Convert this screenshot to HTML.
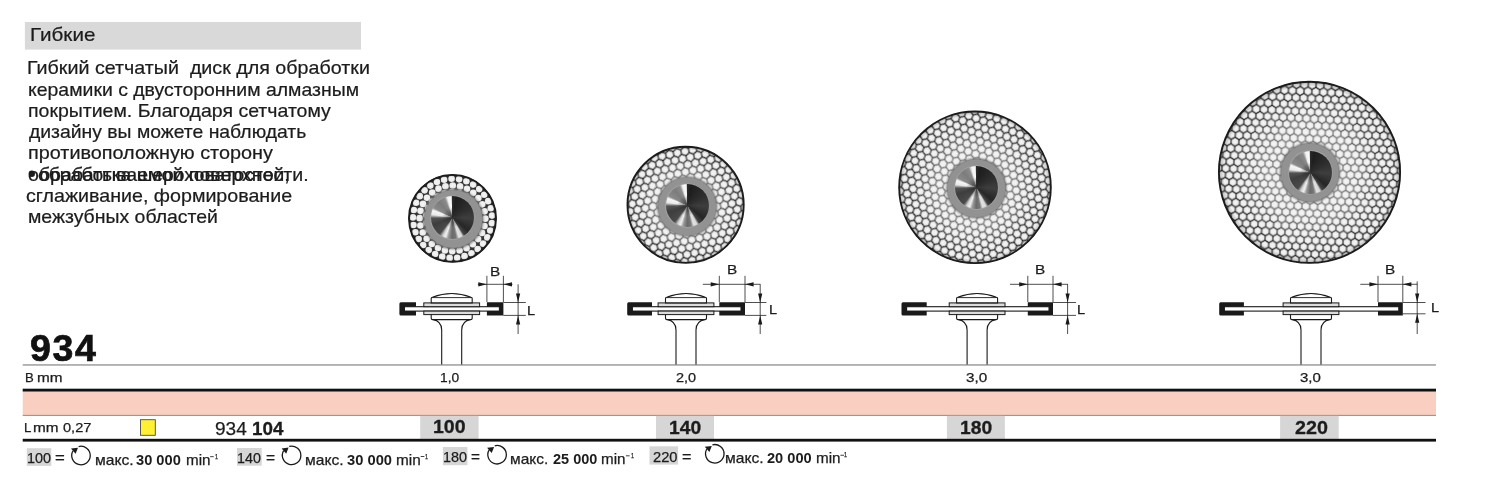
<!DOCTYPE html>
<html lang="ru"><head><meta charset="utf-8"><title>934</title>
<style>
html,body{margin:0;padding:0;background:#fff;}
body{width:1500px;height:500px;position:relative;overflow:hidden;font-family:"Liberation Sans", sans-serif;}
.t{position:absolute;white-space:nowrap;line-height:1;transform-origin:0 0;}
.b{position:absolute;}
.hub{position:absolute;border-radius:50%;width:43px;height:43px;background:radial-gradient(circle at 50% 50%,rgba(45,45,45,.8) 0,rgba(45,45,45,.55) 10%,rgba(45,45,45,0) 34%,rgba(0,0,0,0) 82%,rgba(0,0,0,.5) 100%),conic-gradient(from 0deg,#2a2a2a 0deg,#1e1e1e 10deg,#2e2e2e 60deg,#3e3e3e 92deg,#262626 130deg,#444 146deg,#d8d8d8 153deg,#e2e2e2 162deg,#777 170deg,#6a6a6a 181deg,#999 192deg,#f0f0f0 200deg,#d0d0d0 208deg,#4a4a4a 218deg,#3e3e3e 250deg,#525252 268deg,#e8e8e8 278deg,#f6f6f6 290deg,#8a8a8a 297deg,#7c7c7c 320deg,#8c8c8c 338deg,#f0f0f0 346deg,#fafafa 355deg,#aaa 359deg,#2a2a2a 360deg);filter:blur(.6px);}
svg{position:absolute;left:0;top:0;}
</style></head><body>
<svg width="1500" height="500" viewBox="0 0 1500 500">
<defs><filter id="bl" x="-5%" y="-5%" width="110%" height="110%"><feGaussianBlur stdDeviation="0.5"/></filter><filter id="bl2" x="-5%" y="-5%" width="110%" height="110%"><feGaussianBlur stdDeviation="0.4"/></filter><filter id="bl3" x="-10%" y="-10%" width="120%" height="120%"><feGaussianBlur stdDeviation="0.9"/></filter><radialGradient id="ov"><stop offset="0" stop-color="#f4f4f4" stop-opacity="0.42"/><stop offset="0.5" stop-color="#f4f4f4" stop-opacity="0.38"/><stop offset="0.72" stop-color="#f4f4f4" stop-opacity="0.14"/><stop offset="0.86" stop-color="#f4f4f4" stop-opacity="0"/><stop offset="0.94" stop-color="#000" stop-opacity="0"/><stop offset="1" stop-color="#000" stop-opacity="0.28"/></radialGradient><radialGradient id="hg"><stop offset="0" stop-color="#f4f4f4"/><stop offset="0.7" stop-color="#eeeeee"/><stop offset="1" stop-color="#e4e4e4"/></radialGradient>
</defs>
<rect x="24.9" y="22" width="336.1" height="27.6" fill="#d9d9d9"/>
<rect x="22.7" y="364.3" width="1413.3" height="1.3" fill="#8f8f8f"/>
<rect x="22.7" y="391" width="1413.3" height="24.2" fill="#f8cfc0"/>
<rect x="22.7" y="388.7" width="1413.3" height="2.8" fill="#111"/>
<rect x="22.7" y="414.9" width="1413.3" height="1" fill="#8e8e8e"/>
<rect x="420.2" y="415.9" width="58.4" height="23.1" fill="#d6d6d6"/>
<rect x="656" y="415.9" width="58" height="23.1" fill="#d6d6d6"/>
<rect x="946.9" y="415.9" width="58" height="23.1" fill="#d6d6d6"/>
<rect x="1280.1" y="415.9" width="58.6" height="23.1" fill="#d6d6d6"/>
<rect x="22.7" y="438.8" width="1413.3" height="2.8" fill="#111"/>
<rect x="26.8" y="448.2" width="24.5" height="17.7" fill="#d6d6d6"/>
<rect x="237" y="448" width="24.7" height="17.7" fill="#d6d6d6"/>
<rect x="442.9" y="447" width="24.5" height="18.2" fill="#d6d6d6"/>
<rect x="649.5" y="446.3" width="28.6" height="18.3" fill="#d6d6d6"/>
<rect x="140.5" y="419.7" width="14.8" height="15.6" fill="#fff033" stroke="#4a4a4a" stroke-width="0.9"/>
<clipPath id="c0"><circle cx="452.5" cy="218.4" r="43.9"/></clipPath>
<g clip-path="url(#c0)" filter="url(#bl)"><circle cx="452.5" cy="218.4" r="46.3" fill="#2e2e2e"/><circle cx="491.82" cy="223.14" r="3.3" fill="url(#hg)"/><circle cx="490.21" cy="230.5" r="3.3" fill="url(#hg)"/><circle cx="487.24" cy="237.41" r="3.3" fill="url(#hg)"/><circle cx="483.01" cy="243.64" r="3.3" fill="url(#hg)"/><circle cx="477.68" cy="248.96" r="3.3" fill="url(#hg)"/><circle cx="471.44" cy="253.18" r="3.3" fill="url(#hg)"/><circle cx="464.52" cy="256.13" r="3.3" fill="url(#hg)"/><circle cx="457.16" cy="257.72" r="3.3" fill="url(#hg)"/><circle cx="449.64" cy="257.9" r="3.3" fill="url(#hg)"/><circle cx="442.21" cy="256.64" r="3.3" fill="url(#hg)"/><circle cx="435.16" cy="254" r="3.3" fill="url(#hg)"/><circle cx="428.74" cy="250.08" r="3.3" fill="url(#hg)"/><circle cx="423.17" cy="245.01" r="3.3" fill="url(#hg)"/><circle cx="418.67" cy="238.98" r="3.3" fill="url(#hg)"/><circle cx="415.38" cy="232.2" r="3.3" fill="url(#hg)"/><circle cx="413.44" cy="224.93" r="3.3" fill="url(#hg)"/><circle cx="412.91" cy="217.42" r="3.3" fill="url(#hg)"/><circle cx="413.81" cy="209.94" r="3.3" fill="url(#hg)"/><circle cx="416.11" cy="202.78" r="3.3" fill="url(#hg)"/><circle cx="419.73" cy="196.17" r="3.3" fill="url(#hg)"/><circle cx="424.53" cy="190.37" r="3.3" fill="url(#hg)"/><circle cx="430.34" cy="185.58" r="3.3" fill="url(#hg)"/><circle cx="436.95" cy="181.98" r="3.3" fill="url(#hg)"/><circle cx="444.12" cy="179.7" r="3.3" fill="url(#hg)"/><circle cx="451.6" cy="178.81" r="3.3" fill="url(#hg)"/><circle cx="459.11" cy="179.35" r="3.3" fill="url(#hg)"/><circle cx="466.38" cy="181.31" r="3.3" fill="url(#hg)"/><circle cx="473.14" cy="184.61" r="3.3" fill="url(#hg)"/><circle cx="479.17" cy="189.12" r="3.3" fill="url(#hg)"/><circle cx="484.23" cy="194.7" r="3.3" fill="url(#hg)"/><circle cx="488.14" cy="201.13" r="3.3" fill="url(#hg)"/><circle cx="490.76" cy="208.19" r="3.3" fill="url(#hg)"/><circle cx="492" cy="215.61" r="3.3" fill="url(#hg)"/><circle cx="484.52" cy="225.97" r="3.3" fill="url(#hg)"/><circle cx="482.03" cy="232.91" r="3.3" fill="url(#hg)"/><circle cx="478.06" cy="239.11" r="3.3" fill="url(#hg)"/><circle cx="472.81" cy="244.28" r="3.3" fill="url(#hg)"/><circle cx="466.54" cy="248.15" r="3.3" fill="url(#hg)"/><circle cx="459.57" cy="250.53" r="3.3" fill="url(#hg)"/><circle cx="452.24" cy="251.3" r="3.3" fill="url(#hg)"/><circle cx="444.93" cy="250.42" r="3.3" fill="url(#hg)"/><circle cx="437.99" cy="247.93" r="3.3" fill="url(#hg)"/><circle cx="431.79" cy="243.96" r="3.3" fill="url(#hg)"/><circle cx="426.62" cy="238.71" r="3.3" fill="url(#hg)"/><circle cx="422.75" cy="232.44" r="3.3" fill="url(#hg)"/><circle cx="420.37" cy="225.47" r="3.3" fill="url(#hg)"/><circle cx="419.6" cy="218.14" r="3.3" fill="url(#hg)"/><circle cx="420.48" cy="210.83" r="3.3" fill="url(#hg)"/><circle cx="422.97" cy="203.89" r="3.3" fill="url(#hg)"/><circle cx="426.94" cy="197.69" r="3.3" fill="url(#hg)"/><circle cx="432.19" cy="192.52" r="3.3" fill="url(#hg)"/><circle cx="438.46" cy="188.65" r="3.3" fill="url(#hg)"/><circle cx="445.43" cy="186.27" r="3.3" fill="url(#hg)"/><circle cx="452.76" cy="185.5" r="3.3" fill="url(#hg)"/><circle cx="460.07" cy="186.38" r="3.3" fill="url(#hg)"/><circle cx="467.01" cy="188.87" r="3.3" fill="url(#hg)"/><circle cx="473.21" cy="192.84" r="3.3" fill="url(#hg)"/><circle cx="478.38" cy="198.09" r="3.3" fill="url(#hg)"/><circle cx="482.25" cy="204.36" r="3.3" fill="url(#hg)"/><circle cx="484.63" cy="211.33" r="3.3" fill="url(#hg)"/><circle cx="485.4" cy="218.66" r="3.3" fill="url(#hg)"/><circle cx="478.61" cy="221.55" r="3.3" fill="url(#hg)"/><circle cx="476.67" cy="228.78" r="3.3" fill="url(#hg)"/><circle cx="472.76" cy="235.17" r="3.3" fill="url(#hg)"/><circle cx="467.22" cy="240.2" r="3.3" fill="url(#hg)"/><circle cx="460.48" cy="243.46" r="3.3" fill="url(#hg)"/><circle cx="453.1" cy="244.69" r="3.3" fill="url(#hg)"/><circle cx="445.67" cy="243.8" r="3.3" fill="url(#hg)"/><circle cx="438.79" cy="240.84" r="3.3" fill="url(#hg)"/><circle cx="433.02" cy="236.07" r="3.3" fill="url(#hg)"/><circle cx="428.83" cy="229.87" r="3.3" fill="url(#hg)"/><circle cx="426.56" cy="222.74" r="3.3" fill="url(#hg)"/><circle cx="426.39" cy="215.25" r="3.3" fill="url(#hg)"/><circle cx="428.33" cy="208.02" r="3.3" fill="url(#hg)"/><circle cx="432.24" cy="201.63" r="3.3" fill="url(#hg)"/><circle cx="437.78" cy="196.6" r="3.3" fill="url(#hg)"/><circle cx="444.52" cy="193.34" r="3.3" fill="url(#hg)"/><circle cx="451.9" cy="192.11" r="3.3" fill="url(#hg)"/><circle cx="459.33" cy="193" r="3.3" fill="url(#hg)"/><circle cx="466.21" cy="195.96" r="3.3" fill="url(#hg)"/><circle cx="471.98" cy="200.73" r="3.3" fill="url(#hg)"/><circle cx="476.17" cy="206.93" r="3.3" fill="url(#hg)"/><circle cx="478.44" cy="214.06" r="3.3" fill="url(#hg)"/></g>
<circle cx="452.5" cy="218.4" r="43.9" fill="url(#ov)"/>
<circle cx="452.5" cy="218.4" r="43.5" fill="none" stroke="#1c1c1c" stroke-width="1.9" filter="url(#bl2)"/>
<circle cx="453.4" cy="219" r="30.0" fill="#707070" filter="url(#bl3)"/>
<circle cx="453.4" cy="219" r="28.8" fill="#929292" filter="url(#bl2)"/>
<circle cx="452.3" cy="217.7" r="22.3" fill="#a0a0a0" filter="url(#bl2)"/>
<clipPath id="c1"><circle cx="685.6" cy="204.8" r="58.5"/></clipPath>
<pattern id="p1" width="7.8" height="13.51" patternUnits="userSpaceOnUse" patternTransform="translate(688.6 205.8) rotate(-12)"><rect width="7.8" height="13.51" fill="#2c2c2c"/><path d="M2.96 1.71L0 3.42L-2.96 1.71L-2.96 -1.71L-0 -3.42L2.96 -1.71Z" fill="url(#hg)" stroke="#e4e4e4" stroke-width="0.7" stroke-linejoin="round"/><path d="M10.76 1.71L7.8 3.42L4.84 1.71L4.84 -1.71L7.8 -3.42L10.76 -1.71Z" fill="url(#hg)" stroke="#e4e4e4" stroke-width="0.7" stroke-linejoin="round"/><path d="M2.96 15.22L0 16.93L-2.96 15.22L-2.96 11.8L-0 10.09L2.96 11.8Z" fill="url(#hg)" stroke="#e4e4e4" stroke-width="0.7" stroke-linejoin="round"/><path d="M10.76 15.22L7.8 16.93L4.84 15.22L4.84 11.8L7.8 10.09L10.76 11.8Z" fill="url(#hg)" stroke="#e4e4e4" stroke-width="0.7" stroke-linejoin="round"/><path d="M6.86 8.46L3.9 10.17L0.94 8.46L0.94 5.04L3.9 3.33L6.86 5.04Z" fill="url(#hg)" stroke="#e4e4e4" stroke-width="0.7" stroke-linejoin="round"/></pattern>
<g clip-path="url(#c1)" filter="url(#bl)"><circle cx="685.6" cy="204.8" r="60.9" fill="url(#p1)"/></g>
<circle cx="685.6" cy="204.8" r="58.5" fill="url(#ov)"/>
<circle cx="685.6" cy="204.8" r="58.1" fill="none" stroke="#1c1c1c" stroke-width="1.9" filter="url(#bl2)"/>
<circle cx="687.2" cy="206.4" r="30.0" fill="#707070" filter="url(#bl3)"/>
<circle cx="687.2" cy="206.4" r="28.8" fill="#929292" filter="url(#bl2)"/>
<circle cx="687.1" cy="205.6" r="22.3" fill="#a0a0a0" filter="url(#bl2)"/>
<clipPath id="c2"><circle cx="975" cy="187.3" r="76.2"/></clipPath>
<pattern id="p2" width="7.8" height="13.51" patternUnits="userSpaceOnUse" patternTransform="translate(975 189.8) rotate(20)"><rect width="7.8" height="13.51" fill="#2c2c2c"/><path d="M2.96 1.71L0 3.42L-2.96 1.71L-2.96 -1.71L-0 -3.42L2.96 -1.71Z" fill="url(#hg)" stroke="#e4e4e4" stroke-width="0.7" stroke-linejoin="round"/><path d="M10.76 1.71L7.8 3.42L4.84 1.71L4.84 -1.71L7.8 -3.42L10.76 -1.71Z" fill="url(#hg)" stroke="#e4e4e4" stroke-width="0.7" stroke-linejoin="round"/><path d="M2.96 15.22L0 16.93L-2.96 15.22L-2.96 11.8L-0 10.09L2.96 11.8Z" fill="url(#hg)" stroke="#e4e4e4" stroke-width="0.7" stroke-linejoin="round"/><path d="M10.76 15.22L7.8 16.93L4.84 15.22L4.84 11.8L7.8 10.09L10.76 11.8Z" fill="url(#hg)" stroke="#e4e4e4" stroke-width="0.7" stroke-linejoin="round"/><path d="M6.86 8.46L3.9 10.17L0.94 8.46L0.94 5.04L3.9 3.33L6.86 5.04Z" fill="url(#hg)" stroke="#e4e4e4" stroke-width="0.7" stroke-linejoin="round"/></pattern>
<g clip-path="url(#c2)" filter="url(#bl)"><circle cx="975" cy="187.3" r="78.6" fill="url(#p2)"/></g>
<circle cx="975" cy="187.3" r="76.2" fill="url(#ov)"/>
<circle cx="975" cy="187.3" r="75.8" fill="none" stroke="#1c1c1c" stroke-width="1.9" filter="url(#bl2)"/>
<circle cx="976.4" cy="188.3" r="30.0" fill="#707070" filter="url(#bl3)"/>
<circle cx="976.4" cy="188.3" r="28.8" fill="#929292" filter="url(#bl2)"/>
<circle cx="976.5" cy="187.6" r="22.3" fill="#a0a0a0" filter="url(#bl2)"/>
<clipPath id="c3"><circle cx="1309.5" cy="172.3" r="91"/></clipPath>
<pattern id="p3" width="7.8" height="13.51" patternUnits="userSpaceOnUse" patternTransform="translate(1311.5 172.8) rotate(3)"><rect width="7.8" height="13.51" fill="#2c2c2c"/><path d="M2.96 1.71L0 3.42L-2.96 1.71L-2.96 -1.71L-0 -3.42L2.96 -1.71Z" fill="url(#hg)" stroke="#e4e4e4" stroke-width="0.7" stroke-linejoin="round"/><path d="M10.76 1.71L7.8 3.42L4.84 1.71L4.84 -1.71L7.8 -3.42L10.76 -1.71Z" fill="url(#hg)" stroke="#e4e4e4" stroke-width="0.7" stroke-linejoin="round"/><path d="M2.96 15.22L0 16.93L-2.96 15.22L-2.96 11.8L-0 10.09L2.96 11.8Z" fill="url(#hg)" stroke="#e4e4e4" stroke-width="0.7" stroke-linejoin="round"/><path d="M10.76 15.22L7.8 16.93L4.84 15.22L4.84 11.8L7.8 10.09L10.76 11.8Z" fill="url(#hg)" stroke="#e4e4e4" stroke-width="0.7" stroke-linejoin="round"/><path d="M6.86 8.46L3.9 10.17L0.94 8.46L0.94 5.04L3.9 3.33L6.86 5.04Z" fill="url(#hg)" stroke="#e4e4e4" stroke-width="0.7" stroke-linejoin="round"/></pattern>
<g clip-path="url(#c3)" filter="url(#bl)"><circle cx="1309.5" cy="172.3" r="93.4" fill="url(#p3)"/></g>
<circle cx="1309.5" cy="172.3" r="91" fill="url(#ov)"/>
<circle cx="1309.5" cy="172.3" r="90.6" fill="none" stroke="#1c1c1c" stroke-width="1.9" filter="url(#bl2)"/>
<circle cx="1310" cy="172.5" r="30.0" fill="#707070" filter="url(#bl3)"/>
<circle cx="1310" cy="172.5" r="28.8" fill="#929292" filter="url(#bl2)"/>
<circle cx="1310.4" cy="172.2" r="22.3" fill="#a0a0a0" filter="url(#bl2)"/>
<rect x="404.4" y="306.7" width="95" height="4.4" fill="#fff" stroke="#1a1a1a" stroke-width="1.1"/>
<path d="M400.9 302.2H416V306.7H405V311.1H416V315.4H400.9Q399.4 315.4 399.4 313.9V303.7Q399.4 302.2 400.9 302.2Z" fill="#1a1a1a"/>
<path d="M486.9 302.2H503.4V315.4H486.9V311.1H499.4V306.7H486.9Z" fill="#1a1a1a"/>
<rect x="423.8" y="302.9" width="55.8" height="3.8" fill="#dcdcdc" stroke="#1a1a1a" stroke-width="1"/>
<rect x="423.8" y="311.1" width="55.8" height="3.5" fill="#dcdcdc" stroke="#1a1a1a" stroke-width="1"/>
<path d="M431.2 302.9V298.6Q431.2 297.4 432.4 297.2Q451.7 289.8 471 297.2Q472.2 297.4 472.2 298.6V302.9Z" fill="#fff" stroke="#1a1a1a" stroke-width="1.1"/>
<path d="M432.2 297.6H471.2" stroke="#1a1a1a" stroke-width="0.9"/>
<path d="M431.2 314.6V318.3Q431.2 319.6 432.7 319.6C438.7 320.5 441.7 324 441.7 330V364.4M472.2 314.6V318.3Q472.2 319.6 470.7 319.6C464.7 320.5 461.7 324 461.7 330V364.4M432.2 319.6H471.2" fill="none" stroke="#1a1a1a" stroke-width="1.1"/>
<path d="M486.9 275.8V302M503.4 275.8V302M477.8 284.3H512.5" stroke="#222" stroke-width="0.8" fill="none"/>
<path d="M486.9 284.3L478.3 282.2V286.4Z M503.4 284.3L512 282.2V286.4Z" fill="#1a1a1a"/>
<path d="M503.4 302.5H525.8M503.4 315.4H525.8M518.1 284.3V334" stroke="#222" stroke-width="0.8" fill="none"/>
<path d="M518.1 302.5L516 293.6H520.2Z M518.1 315.4L516 324.4H520.2Z" fill="#1a1a1a"/>
<rect x="632.2" y="306.7" width="108.8" height="4.4" fill="#fff" stroke="#1a1a1a" stroke-width="1.1"/>
<path d="M628.7 302.2H652V306.7H632.8V311.1H652V315.4H628.7Q627.2 315.4 627.2 313.9V303.7Q627.2 302.2 628.7 302.2Z" fill="#1a1a1a"/>
<path d="M719.3 302.2H745V315.4H719.3V311.1H741V306.7H719.3Z" fill="#1a1a1a"/>
<rect x="658.1" y="302.9" width="55.8" height="3.8" fill="#dcdcdc" stroke="#1a1a1a" stroke-width="1"/>
<rect x="658.1" y="311.1" width="55.8" height="3.5" fill="#dcdcdc" stroke="#1a1a1a" stroke-width="1"/>
<path d="M665.5 302.9V298.6Q665.5 297.4 666.7 297.2Q686 289.8 705.3 297.2Q706.5 297.4 706.5 298.6V302.9Z" fill="#fff" stroke="#1a1a1a" stroke-width="1.1"/>
<path d="M666.5 297.6H705.5" stroke="#1a1a1a" stroke-width="0.9"/>
<path d="M665.5 314.6V318.3Q665.5 319.6 667 319.6C673 320.5 676 324 676 330V364.4M706.5 314.6V318.3Q706.5 319.6 705 319.6C699 320.5 696 324 696 330V364.4M666.5 319.6H705.5" fill="none" stroke="#1a1a1a" stroke-width="1.1"/>
<path d="M719.3 275.8V302M745 275.8V302M702.8 284.3H760.4" stroke="#222" stroke-width="0.8" fill="none"/>
<path d="M719.3 284.3L710.7 282.2V286.4Z M745 284.3L753.6 282.2V286.4Z" fill="#1a1a1a"/>
<path d="M745 302.5H766.4M745 315.4H766.4M760.2 284.3V334" stroke="#222" stroke-width="0.8" fill="none"/>
<path d="M760.2 302.5L758.1 293.6H762.3Z M760.2 315.4L758.1 324.4H762.3Z" fill="#1a1a1a"/>
<rect x="906.5" y="306.7" width="142.5" height="4.4" fill="#fff" stroke="#1a1a1a" stroke-width="1.1"/>
<path d="M903 302.2H926.7V306.7H907.1V311.1H926.7V315.4H903Q901.5 315.4 901.5 313.9V303.7Q901.5 302.2 903 302.2Z" fill="#1a1a1a"/>
<path d="M1027.8 302.2H1053V315.4H1027.8V311.1H1049V306.7H1027.8Z" fill="#1a1a1a"/>
<rect x="949.2" y="302.9" width="55.8" height="3.8" fill="#dcdcdc" stroke="#1a1a1a" stroke-width="1"/>
<rect x="949.2" y="311.1" width="55.8" height="3.5" fill="#dcdcdc" stroke="#1a1a1a" stroke-width="1"/>
<path d="M956.6 302.9V298.6Q956.6 297.4 957.8 297.2Q977.1 289.8 996.4 297.2Q997.6 297.4 997.6 298.6V302.9Z" fill="#fff" stroke="#1a1a1a" stroke-width="1.1"/>
<path d="M957.6 297.6H996.6" stroke="#1a1a1a" stroke-width="0.9"/>
<path d="M956.6 314.6V318.3Q956.6 319.6 958.1 319.6C964.1 320.5 967.1 324 967.1 330V364.4M997.6 314.6V318.3Q997.6 319.6 996.1 319.6C990.1 320.5 987.1 324 987.1 330V364.4M957.6 319.6H996.6" fill="none" stroke="#1a1a1a" stroke-width="1.1"/>
<path d="M1027.8 275.8V302M1053 275.8V302M1010 284.3H1068" stroke="#222" stroke-width="0.8" fill="none"/>
<path d="M1027.8 284.3L1019.2 282.2V286.4Z M1053 284.3L1061.6 282.2V286.4Z" fill="#1a1a1a"/>
<path d="M1053 302.5H1076M1053 315.4H1076M1067.6 284.3V334" stroke="#222" stroke-width="0.8" fill="none"/>
<path d="M1067.6 302.5L1065.5 293.6H1069.7Z M1067.6 315.4L1065.5 324.4H1069.7Z" fill="#1a1a1a"/>
<rect x="1224.2" y="306.7" width="174.6" height="4.4" fill="#fff" stroke="#1a1a1a" stroke-width="1.1"/>
<path d="M1220.7 302.2H1243.9V306.7H1224.8V311.1H1243.9V315.4H1220.7Q1219.2 315.4 1219.2 313.9V303.7Q1219.2 302.2 1220.7 302.2Z" fill="#1a1a1a"/>
<path d="M1378 302.2H1402.8V315.4H1378V311.1H1398.8V306.7H1378Z" fill="#1a1a1a"/>
<rect x="1283.1" y="302.9" width="55.8" height="3.8" fill="#dcdcdc" stroke="#1a1a1a" stroke-width="1"/>
<rect x="1283.1" y="311.1" width="55.8" height="3.5" fill="#dcdcdc" stroke="#1a1a1a" stroke-width="1"/>
<path d="M1290.5 302.9V298.6Q1290.5 297.4 1291.7 297.2Q1311 289.8 1330.3 297.2Q1331.5 297.4 1331.5 298.6V302.9Z" fill="#fff" stroke="#1a1a1a" stroke-width="1.1"/>
<path d="M1291.5 297.6H1330.5" stroke="#1a1a1a" stroke-width="0.9"/>
<path d="M1290.5 314.6V318.3Q1290.5 319.6 1292 319.6C1298 320.5 1301 324 1301 330V364.4M1331.5 314.6V318.3Q1331.5 319.6 1330 319.6C1324 320.5 1321 324 1321 330V364.4M1291.5 319.6H1330.5" fill="none" stroke="#1a1a1a" stroke-width="1.1"/>
<path d="M1378 275.8V302M1402.8 275.8V302M1360.3 284.3H1417.4" stroke="#222" stroke-width="0.8" fill="none"/>
<path d="M1378 284.3L1369.4 282.2V286.4Z M1402.8 284.3L1411.4 282.2V286.4Z" fill="#1a1a1a"/>
<path d="M1402.8 302.5H1425.5M1402.8 313.8H1425.5M1417.2 281.4V334" stroke="#222" stroke-width="0.8" fill="none"/>
<path d="M1417.2 302.5L1415.1 293.6H1419.3Z M1417.2 313.8L1415.1 322.8H1419.3Z" fill="#1a1a1a"/>
<path d="M78.61 446.57A9.25 9.25 0 1 1 73.07 450.74" fill="none" stroke="#1a1a1a" stroke-width="1.3"/><path d="M71 448.5L78 447.7L75.6 453.8Z" fill="#1a1a1a"/>
<path d="M289.21 446.47A9.25 9.25 0 1 1 283.67 450.64" fill="none" stroke="#1a1a1a" stroke-width="1.3"/><path d="M281.6 448.4L288.6 447.6L286.2 453.7Z" fill="#1a1a1a"/>
<path d="M494.71 445.77A9.25 9.25 0 1 1 489.17 449.94" fill="none" stroke="#1a1a1a" stroke-width="1.3"/><path d="M487.1 447.7L494.1 446.9L491.7 453Z" fill="#1a1a1a"/>
<path d="M712.41 444.87A9.25 9.25 0 1 1 706.87 449.04" fill="none" stroke="#1a1a1a" stroke-width="1.3"/><path d="M704.8 446.8L711.8 446L709.4 452.1Z" fill="#1a1a1a"/>
<circle cx="31.8" cy="173.7" r="3.2" fill="#1c1c1c"/>
<rect x="210.1" y="456.3" width="3.7" height="0.85" fill="#222"/>
<rect x="420.7" y="456.1" width="3.7" height="0.85" fill="#222"/>
<rect x="625.9" y="455.4" width="3.7" height="0.85" fill="#222"/>
<rect x="840.4" y="454.8" width="3.7" height="0.85" fill="#222"/>
</svg>
<div class="hub" style="left:430.8px;top:196.2px"></div>
<div class="hub" style="left:665.6px;top:184.1px"></div>
<div class="hub" style="left:955px;top:166.1px"></div>
<div class="hub" style="left:1288.9px;top:150.7px"></div>
<span class="t" id="t0" style="left:29.99px;top:26px;font-size:18.2px;color:#1c1c1c;-webkit-text-stroke:0.22px #1c1c1c;transform:scaleX(1.1348);">Гибкие</span>
<span class="t" id="t1" style="left:27.36px;top:59px;font-size:18.5px;color:#1c1c1c;-webkit-text-stroke:0.22px #1c1c1c;transform:scaleX(1.0638);">Гибкий сетчатый&nbsp; диск для обработки</span>
<span class="t" id="t2" style="left:27.69px;top:81px;font-size:18.5px;color:#1c1c1c;-webkit-text-stroke:0.22px #1c1c1c;transform:scaleX(1.0507);">керамики с двусторонним алмазным</span>
<span class="t" id="t3" style="left:27.68px;top:102px;font-size:18.5px;color:#1c1c1c;-webkit-text-stroke:0.22px #1c1c1c;transform:scaleX(1.0540);">покрытием. Благодаря сетчатому</span>
<span class="t" id="t4" style="left:28.9px;top:123px;font-size:18.5px;color:#1c1c1c;-webkit-text-stroke:0.22px #1c1c1c;transform:scaleX(1.0466);">дизайну вы можете наблюдать</span>
<span class="t" id="t5" style="left:27.66px;top:144px;font-size:18.5px;color:#1c1c1c;-webkit-text-stroke:0.22px #1c1c1c;transform:scaleX(1.0711);">противоположную сторону</span>
<span class="t" id="t6" style="left:28.29px;top:166px;font-size:18.5px;color:#1c1c1c;-webkit-text-stroke:0.22px #1c1c1c;transform:scaleX(1.0583);">обрабатываемой поверхности.</span>
<span class="t" id="t7" style="left:38.1px;top:166px;font-size:18.5px;color:#1c1c1c;-webkit-text-stroke:0.22px #1c1c1c;transform:scaleX(1.0463);">обработка шероховатостей,</span>
<span class="t" id="t8" style="left:25.79px;top:187px;font-size:18.5px;color:#1c1c1c;-webkit-text-stroke:0.22px #1c1c1c;transform:scaleX(1.0619);">сглаживание, формирование</span>
<span class="t" id="t9" style="left:27.68px;top:208px;font-size:18.5px;color:#1c1c1c;-webkit-text-stroke:0.22px #1c1c1c;transform:scaleX(1.0513);">межзубных областей</span>
<span class="t" id="t10" style="left:30.33px;top:331px;font-size:36.2px;font-weight:700;letter-spacing:1.6px;color:#111;-webkit-text-stroke:0.7px #111;transform:scaleX(1.0367);">934</span>
<span class="t" id="t11" style="left:25.47px;top:371px;font-size:13.4px;color:#1c1c1c;-webkit-text-stroke:0.25px #1c1c1c;transform:scaleX(0.9825);">B</span>
<span class="t" id="t12" style="left:36.74px;top:371px;font-size:13.4px;color:#1c1c1c;-webkit-text-stroke:0.25px #1c1c1c;transform:scaleX(1.1446);">mm</span>
<span class="t" id="t13" style="left:23.67px;top:421px;font-size:13.4px;color:#1c1c1c;-webkit-text-stroke:0.25px #1c1c1c;transform:scaleX(0.9882);">L</span>
<span class="t" id="t14" style="left:33.24px;top:421px;font-size:13.4px;color:#1c1c1c;-webkit-text-stroke:0.25px #1c1c1c;transform:scaleX(1.1446);">mm</span>
<span class="t" id="t15" style="left:63.44px;top:421px;font-size:13.4px;color:#1c1c1c;-webkit-text-stroke:0.25px #1c1c1c;transform:scaleX(1.0908);">0,27</span>
<span class="t" id="t16" style="left:214.51px;top:420px;font-size:18.8px;color:#1c1c1c;-webkit-text-stroke:0.25px #1c1c1c;transform:scaleX(1.0127);">934</span>
<span class="t" id="t17" style="left:252.23px;top:420px;font-size:18.8px;font-weight:700;color:#1c1c1c;-webkit-text-stroke:0.3px #1c1c1c;transform:scaleX(0.9996);">104</span>
<span class="t" id="t18" style="left:440.37px;top:372px;font-size:12.7px;color:#1c1c1c;-webkit-text-stroke:0.25px #1c1c1c;transform:scaleX(1.0836);">1,0</span>
<span class="t" id="t19" style="left:675.52px;top:372px;font-size:12.7px;color:#1c1c1c;-webkit-text-stroke:0.25px #1c1c1c;transform:scaleX(1.1391);">2,0</span>
<span class="t" id="t20" style="left:966.26px;top:372px;font-size:12.7px;color:#1c1c1c;-webkit-text-stroke:0.25px #1c1c1c;transform:scaleX(1.2006);">3,0</span>
<span class="t" id="t21" style="left:1300.27px;top:372px;font-size:12.7px;color:#1c1c1c;-webkit-text-stroke:0.25px #1c1c1c;transform:scaleX(1.1827);">3,0</span>
<span class="t" id="t22" style="left:432.78px;top:418px;font-size:18.8px;font-weight:700;color:#1c1c1c;-webkit-text-stroke:0.3px #1c1c1c;transform:scaleX(1.0398);">100</span>
<span class="t" id="t23" style="left:668.59px;top:419px;font-size:18.8px;font-weight:700;color:#1c1c1c;-webkit-text-stroke:0.3px #1c1c1c;transform:scaleX(1.0262);">140</span>
<span class="t" id="t24" style="left:960.39px;top:419px;font-size:18.8px;font-weight:700;color:#1c1c1c;-webkit-text-stroke:0.3px #1c1c1c;transform:scaleX(1.0262);">180</span>
<span class="t" id="t25" style="left:1294.58px;top:419px;font-size:18.8px;font-weight:700;color:#1c1c1c;-webkit-text-stroke:0.3px #1c1c1c;transform:scaleX(1.0494);">220</span>
<span class="t" id="t26" style="left:489.8px;top:265px;font-size:13.2px;color:#1c1c1c;-webkit-text-stroke:0.25px #1c1c1c;transform:scaleX(1.1636);">B</span>
<span class="t" id="t27" style="left:526.76px;top:304px;font-size:13.2px;color:#1c1c1c;-webkit-text-stroke:0.25px #1c1c1c;transform:scaleX(1.1034);">L</span>
<span class="t" id="t28" style="left:726.8px;top:263px;font-size:13.2px;color:#1c1c1c;-webkit-text-stroke:0.25px #1c1c1c;transform:scaleX(1.1636);">B</span>
<span class="t" id="t29" style="left:769.06px;top:303px;font-size:13.2px;color:#1c1c1c;-webkit-text-stroke:0.25px #1c1c1c;transform:scaleX(1.1034);">L</span>
<span class="t" id="t30" style="left:1034.8px;top:263px;font-size:13.2px;color:#1c1c1c;-webkit-text-stroke:0.25px #1c1c1c;transform:scaleX(1.1636);">B</span>
<span class="t" id="t31" style="left:1076.56px;top:303px;font-size:13.2px;color:#1c1c1c;-webkit-text-stroke:0.25px #1c1c1c;transform:scaleX(1.1034);">L</span>
<span class="t" id="t32" style="left:1384.7px;top:263px;font-size:13.2px;color:#1c1c1c;-webkit-text-stroke:0.25px #1c1c1c;transform:scaleX(1.1636);">B</span>
<span class="t" id="t33" style="left:1431.36px;top:301px;font-size:13.2px;color:#1c1c1c;-webkit-text-stroke:0.25px #1c1c1c;transform:scaleX(1.1034);">L</span>
<span class="t" id="t34" style="left:26.9px;top:451px;font-size:14.6px;color:#1c1c1c;-webkit-text-stroke:0.25px #1c1c1c;transform:scaleX(0.9877);">100</span>
<span class="t" id="t35" style="left:54.91px;top:451px;font-size:14.6px;color:#1c1c1c;-webkit-text-stroke:0.25px #1c1c1c;transform:scaleX(1.1507);">=</span>
<span class="t" id="t36" style="left:94.52px;top:453px;font-size:14.6px;color:#1c1c1c;-webkit-text-stroke:0.25px #1c1c1c;transform:scaleX(1.0729);">макс.</span>
<span class="t" id="t37" style="left:136.37px;top:453px;font-size:14.6px;font-weight:700;color:#1c1c1c;transform:scaleX(1.0037);">30 000</span>
<span class="t" id="t38" style="left:185.55px;top:453px;font-size:14.6px;color:#1c1c1c;-webkit-text-stroke:0.25px #1c1c1c;transform:scaleX(1.0416);">min</span>
<span class="t" id="t39" style="left:214.89px;top:453px;font-size:8px;color:#1c1c1c;-webkit-text-stroke:0.25px #1c1c1c;transform:scaleX(0.6857);">1</span>
<span class="t" id="t40" style="left:237.31px;top:451px;font-size:14.6px;color:#1c1c1c;-webkit-text-stroke:0.25px #1c1c1c;transform:scaleX(0.9791);">140</span>
<span class="t" id="t41" style="left:266.07px;top:451px;font-size:14.6px;color:#1c1c1c;-webkit-text-stroke:0.25px #1c1c1c;transform:scaleX(1.0685);">=</span>
<span class="t" id="t42" style="left:304.72px;top:453px;font-size:14.6px;color:#1c1c1c;-webkit-text-stroke:0.25px #1c1c1c;transform:scaleX(1.0699);">макс.</span>
<span class="t" id="t43" style="left:346.77px;top:453px;font-size:14.6px;font-weight:700;color:#1c1c1c;transform:scaleX(1.0083);">30 000</span>
<span class="t" id="t44" style="left:395.94px;top:453px;font-size:14.6px;color:#1c1c1c;-webkit-text-stroke:0.25px #1c1c1c;transform:scaleX(1.0508);">min</span>
<span class="t" id="t45" style="left:425.49px;top:453px;font-size:8px;color:#1c1c1c;-webkit-text-stroke:0.25px #1c1c1c;transform:scaleX(0.6857);">1</span>
<span class="t" id="t46" style="left:442.9px;top:450px;font-size:14.6px;color:#1c1c1c;-webkit-text-stroke:0.25px #1c1c1c;transform:scaleX(0.9877);">180</span>
<span class="t" id="t47" style="left:471.48px;top:450px;font-size:14.6px;color:#1c1c1c;-webkit-text-stroke:0.25px #1c1c1c;transform:scaleX(1.0548);">=</span>
<span class="t" id="t48" style="left:510.43px;top:452px;font-size:14.6px;color:#1c1c1c;-webkit-text-stroke:0.25px #1c1c1c;transform:scaleX(1.0611);">макс.</span>
<span class="t" id="t49" style="left:552.75px;top:452px;font-size:14.6px;font-weight:700;color:#1c1c1c;transform:scaleX(0.9929);">25 000</span>
<span class="t" id="t50" style="left:601.35px;top:452px;font-size:14.6px;color:#1c1c1c;-webkit-text-stroke:0.25px #1c1c1c;transform:scaleX(1.0416);">min</span>
<span class="t" id="t51" style="left:630.79px;top:452px;font-size:8px;color:#1c1c1c;-webkit-text-stroke:0.25px #1c1c1c;transform:scaleX(0.6857);">1</span>
<span class="t" id="t52" style="left:652.81px;top:450px;font-size:14.6px;color:#1c1c1c;-webkit-text-stroke:0.25px #1c1c1c;transform:scaleX(1.0081);">220</span>
<span class="t" id="t53" style="left:681.74px;top:450px;font-size:14.6px;color:#1c1c1c;-webkit-text-stroke:0.25px #1c1c1c;transform:scaleX(1.1096);">=</span>
<span class="t" id="t54" style="left:724.82px;top:451px;font-size:14.6px;color:#1c1c1c;-webkit-text-stroke:0.25px #1c1c1c;transform:scaleX(1.0699);">макс.</span>
<span class="t" id="t55" style="left:766.84px;top:451px;font-size:14.6px;font-weight:700;color:#1c1c1c;transform:scaleX(0.9998);">20 000</span>
<span class="t" id="t56" style="left:815.75px;top:451px;font-size:14.6px;color:#1c1c1c;-webkit-text-stroke:0.25px #1c1c1c;transform:scaleX(1.0462);">min</span>
<span class="t" id="t57" style="left:844.39px;top:451px;font-size:8px;color:#1c1c1c;-webkit-text-stroke:0.25px #1c1c1c;transform:scaleX(0.6857);">1</span>
</body></html>
